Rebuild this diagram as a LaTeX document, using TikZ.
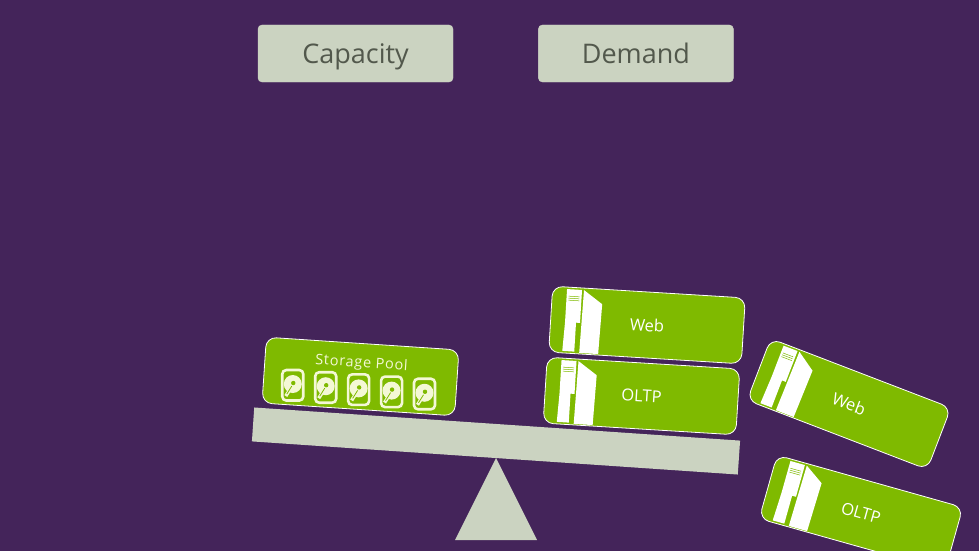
\documentclass[tikz,border=0pt]{standalone}
\usepackage{xcolor}
\usepackage{fontspec}
\setmainfont{Open Sans}
\usetikzlibrary{positioning,calc}
\definecolor{plum}{RGB}{68,36,90}
\definecolor{leaf}{RGB}{127,186,0}
\definecolor{sage}{RGB}{203,211,193}
\definecolor{slate}{RGB}{82,88,76}
\definecolor{cream}{RGB}{244,248,214}

\begin{document}
\begin{tikzpicture}[
  x=1pt, y=-1pt,
  title/.style={rectangle, fill=sage, draw=sage!90!white, rounded corners=4pt,
                minimum width=195pt, minimum height=57pt, inner sep=0pt,
                text height=20pt, text depth=0pt,
                text=slate, font=\fontsize{27}{30}\selectfont},
  card/.style={rectangle, fill=leaf, draw=white, line width=0.8pt, rounded corners=10pt,
               minimum width=193pt, minimum height=66pt, inner sep=0pt,
               text=white, font=\fontsize{16.5}{20}\selectfont},
  beam/.style={rectangle, fill=sage, minimum width=487pt, minimum height=34pt, inner sep=0pt},
  server/.pic={
    \fill[white] (-82,-31) -- (-67,-31) -- (-67,2) -- (-71,2) -- (-71,31) -- (-83,31)
      -- (-82,2) -- cycle;
    \fill[white] (-65,-31) -- (-46,-18) -- (-47,32) -- (-66,32) -- cycle;
    \draw[leaf, line width=0.5pt] (-80,-24) -- (-69,-24) (-80,-22) -- (-69,-22)
      (-80,-20) -- (-69,-20);
  },
  disk/.pic={
    \draw[cream, line width=2.6pt, rounded corners=4pt] (-10.5,-15) rectangle (10.5,15.5);
    \fill[cream] (0,-1) circle (9pt);
    \draw[cream, line width=3.4pt] (0,0) -- (-7,11);
    \draw[leaf, line width=0.8pt] (-1,1) -- (-6,9);
    \fill[leaf] (0.5,-2) circle (2.2pt);
  }
]

% Background
\fill[plum] (0,0) rectangle (979,551);
\useasboundingbox (0,0) rectangle (979,551);

% Titles
\node[title] (capacity) at (355.5,53.5) {Capacity};
\node[title, right=85pt of capacity] (demand) {Demand};

% Seesaw
\fill[sage] (496,458) -- (537,540) -- (455,540) -- cycle;
\node[beam, rotate=-3.9] (plank) at (496,441) {};

% Storage side
\node[card, rotate=-3.8] (pool) at (360.5,376.5) {};
\node[rotate=-3.8, text=cream, font=\fontsize{14.5}{16}\selectfont] (poollabel)
  at ($(pool.center)+(1,-13)$) {\addfontfeature{LetterSpace=5}Storage Pool};
\begin{scope}[shift={(pool.center)}, rotate=-3.8]
  \foreach \i in {-2,...,2}
    \pic at (\i*33-1,13) {disk};
\end{scope}

% Demand side
\node[card, rotate=-3.5] (web) at (647,325) {Web};
\node[card, rotate=-3.5] (oltp) at (641.5,396) {OLTP};
\pic[rotate=-3.5] at (web.center) {server};
\pic[rotate=-3.5] at (oltp.center) {server};

% Falling off
\node[card, rotate=-21] (webfall) at (849,404) {Web};
\node[card, rotate=-15.7] (oltpfall) at (861,513) {OLTP};
\pic[rotate=-21] at (webfall.center) {server};
\pic[rotate=-15.7] at (oltpfall.center) {server};

\end{tikzpicture}
\end{document}
